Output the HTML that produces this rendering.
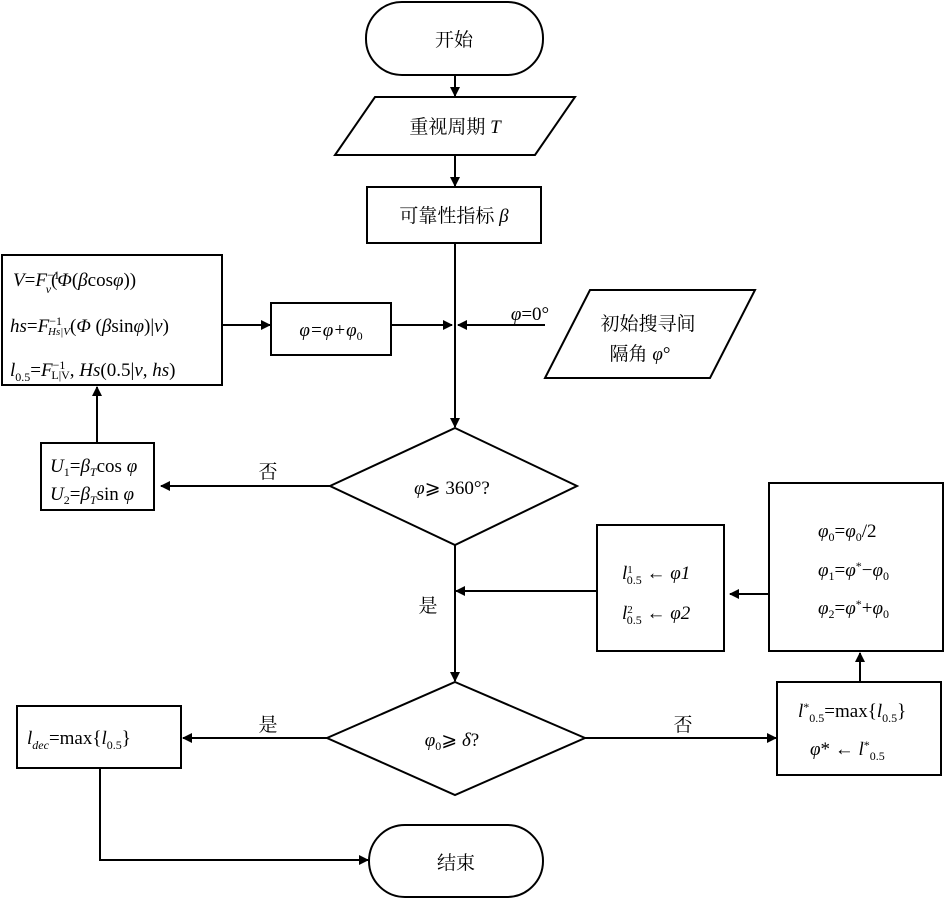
<!DOCTYPE html>
<html><head><meta charset="utf-8"><style>body{margin:0;background:#fff}svg{display:block}
text{font-family:"Liberation Serif","Noto Serif CJK SC",serif;font-size:19px;fill:#000}
.i{font-style:italic}</style></head><body>
<svg width="945" height="898" viewBox="0 0 945 898">
<defs><marker id="a" markerWidth="10" markerHeight="10" refX="9" refY="5" orient="auto" markerUnits="userSpaceOnUse"><path d="M0,0 L10,5 L0,10z" fill="#000"/></marker></defs>
<g fill="none" stroke="#000" stroke-width="2">
<rect x="366" y="2" width="177" height="73" rx="36"/>
<polygon points="375,97 575,97 535,155 335,155"/>
<rect x="367" y="187" width="174" height="56"/>
<rect x="2" y="255" width="220" height="130"/>
<rect x="271" y="303" width="120" height="52"/>
<polygon points="590,290 755,290 710,378 545,378"/>
<rect x="41" y="443" width="113" height="67"/>
<polygon points="455,428 577,486 455,545 330,486"/>
<rect x="597" y="525" width="127" height="126"/>
<rect x="769" y="483" width="174" height="168"/>
<polygon points="455,682 585,738 455,795 327,738"/>
<rect x="17" y="706" width="164" height="62"/>
<rect x="777" y="682" width="164" height="93"/>
<rect x="369" y="825" width="174" height="72" rx="36"/>
<g marker-end="url(#a)">
<line x1="455" y1="75" x2="455" y2="96"/>
<line x1="455" y1="155" x2="455" y2="186"/>
<line x1="455" y1="243" x2="455" y2="427"/>
<line x1="222" y1="325" x2="270" y2="325"/>
<line x1="391" y1="325" x2="452" y2="325"/>
<line x1="545" y1="325" x2="458" y2="325"/>
<line x1="330" y1="486" x2="161" y2="486"/>
<line x1="97" y1="443" x2="97" y2="387"/>
<line x1="455" y1="545" x2="455" y2="681"/>
<line x1="597" y1="591" x2="456" y2="591"/>
<line x1="769" y1="594" x2="730" y2="594"/>
<line x1="860" y1="682" x2="860" y2="653"/>
<line x1="327" y1="738" x2="183" y2="738"/>
<line x1="585" y1="738" x2="776" y2="738"/>
<polyline points="100,768 100,860 368,860"/>
</g></g>
<text x="454" y="46" text-anchor="middle">开始</text>
<text x="455" y="133" text-anchor="middle">重视周期 <tspan class="i">T</tspan></text>
<text x="454" y="222" text-anchor="middle">可靠性指标 <tspan class="i">β</tspan></text>
<text x="13" y="286"><tspan class="i">V</tspan>=<tspan class="i">F</tspan><tspan font-size="12" dy="-7">−1</tspan><tspan font-size="12" class="i" dx="-14" dy="14">v</tspan><tspan dy="-7">(</tspan><tspan class="i">Φ</tspan>(<tspan class="i">β</tspan>cos<tspan class="i">φ</tspan>))</text>
<text x="10" y="332"><tspan class="i">hs</tspan>=<tspan class="i">F</tspan><tspan font-size="12" dy="-7">−1</tspan><tspan font-size="11" class="i" dx="-14" dy="10">Hs|V</tspan><tspan dy="-3">(</tspan><tspan class="i">Φ</tspan> (<tspan class="i">β</tspan>sin<tspan class="i">φ</tspan>)|<tspan class="i">v</tspan>)</text>
<text x="10" y="376"><tspan class="i">l</tspan><tspan font-size="12" dy="5">0.5</tspan><tspan dy="-5">=</tspan><tspan class="i">F</tspan><tspan font-size="12" dy="-7">−1</tspan><tspan font-size="12" dx="-14" dy="10">L|V</tspan><tspan dy="-3">, </tspan><tspan class="i">Hs</tspan>(0.5|<tspan class="i">v</tspan>, <tspan class="i">hs</tspan>)</text>
<text x="331" y="336" text-anchor="middle" class="i">φ=φ+φ<tspan font-size="12" dy="4" font-style="normal">0</tspan></text>
<text x="530" y="320" text-anchor="middle"><tspan class="i">φ</tspan>=0°</text>
<text x="648" y="330" text-anchor="middle">初始搜寻间</text>
<text x="640" y="360" text-anchor="middle">隔角 <tspan class="i">φ</tspan>°</text>
<text x="50" y="472"><tspan class="i">U</tspan><tspan font-size="12" dy="4">1</tspan><tspan dy="-4">=</tspan><tspan class="i">β</tspan><tspan font-size="12" class="i" dy="4">T</tspan><tspan dy="-4">cos </tspan><tspan class="i">φ</tspan></text>
<text x="50" y="500"><tspan class="i">U</tspan><tspan font-size="12" dy="4">2</tspan><tspan dy="-4">=</tspan><tspan class="i">β</tspan><tspan font-size="12" class="i" dy="4">T</tspan><tspan dy="-4">sin </tspan><tspan class="i">φ</tspan></text>
<text x="268" y="478" text-anchor="middle">否</text>
<text x="452" y="494" text-anchor="middle"><tspan class="i">φ</tspan>⩾ 360°?</text>
<text x="428" y="612" text-anchor="middle">是</text>
<text x="622" y="579"><tspan class="i">l</tspan><tspan font-size="11" dy="-6">1</tspan><tspan font-size="12" dx="-6" dy="11">0.5</tspan><tspan dy="-5"> ← </tspan><tspan class="i">φ1</tspan></text>
<text x="622" y="619"><tspan class="i">l</tspan><tspan font-size="11" dy="-6">2</tspan><tspan font-size="12" dx="-6" dy="11">0.5</tspan><tspan dy="-5"> ← </tspan><tspan class="i">φ2</tspan></text>
<text x="818" y="537"><tspan class="i">φ</tspan><tspan font-size="12" dy="4">0</tspan><tspan dy="-4">=</tspan><tspan class="i">φ</tspan><tspan font-size="12" dy="4">0</tspan><tspan dy="-4">/2</tspan></text>
<text x="818" y="576"><tspan class="i">φ</tspan><tspan font-size="12" dy="4">1</tspan><tspan dy="-4">=</tspan><tspan class="i">φ</tspan><tspan font-size="12" dy="-6">*</tspan><tspan dy="6">−</tspan><tspan class="i">φ</tspan><tspan font-size="12" dy="4">0</tspan></text>
<text x="818" y="614"><tspan class="i">φ</tspan><tspan font-size="12" dy="4">2</tspan><tspan dy="-4">=</tspan><tspan class="i">φ</tspan><tspan font-size="12" dy="-6">*</tspan><tspan dy="6">+</tspan><tspan class="i">φ</tspan><tspan font-size="12" dy="4">0</tspan></text>
<text x="268" y="731" text-anchor="middle">是</text>
<text x="683" y="731" text-anchor="middle">否</text>
<text x="452" y="746" text-anchor="middle"><tspan class="i">φ</tspan><tspan font-size="12" dy="4">0</tspan><tspan dy="-4">⩾ </tspan><tspan class="i">δ</tspan>?</text>
<text x="27" y="744"><tspan class="i">l</tspan><tspan font-size="12" class="i" dy="5">dec</tspan><tspan dy="-5">=max{</tspan><tspan class="i">l</tspan><tspan font-size="12" dy="5">0.5</tspan><tspan dy="-5">}</tspan></text>
<text x="798" y="717"><tspan class="i">l</tspan><tspan font-size="12" dy="-6">*</tspan><tspan font-size="12" dy="11">0.5</tspan><tspan dy="-5">=max{</tspan><tspan class="i">l</tspan><tspan font-size="12" dy="5">0.5</tspan><tspan dy="-5">}</tspan></text>
<text x="810" y="755"><tspan class="i">φ</tspan>*  ← <tspan class="i">l</tspan><tspan font-size="12" dy="-6">*</tspan><tspan font-size="12" dy="11">0.5</tspan></text>
<text x="456" y="869" text-anchor="middle">结束</text>
</svg></body></html>
